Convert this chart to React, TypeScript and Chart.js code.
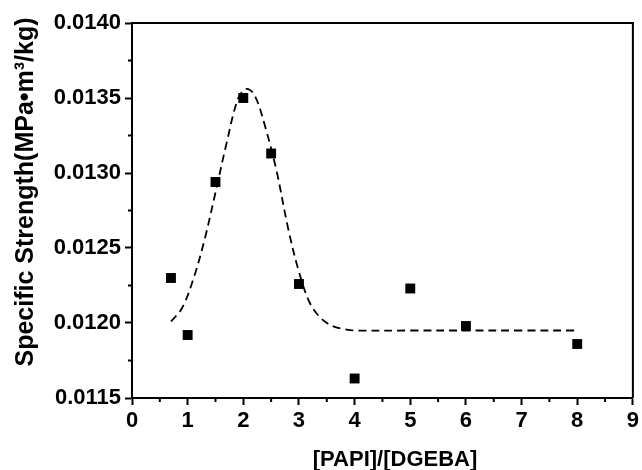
import { useEffect, useRef } from "react";
import { Chart, registerables } from "chart.js";

Chart.register(...registerables);

// Measured data
const ratio = [0.7, 1, 1.5, 2, 2.5, 3, 4, 5, 6, 8];
const strength = [0.0123, 0.01192, 0.01294, 0.0135, 0.01313, 0.01226, 0.01163, 0.01223, 0.01198, 0.01186];

// Dashed fitted curve
const fitX = [0.7, 0.9, 1.1, 1.3, 1.5, 1.7, 1.9, 2.05, 2.2, 2.4, 2.6, 2.8, 3.0, 3.2, 3.4, 3.6, 3.8, 4.0, 5, 6, 7, 8];
const fitY = [0.01201, 0.0121, 0.01229, 0.01255, 0.01287, 0.0132, 0.01349, 0.01356, 0.01352, 0.0133, 0.01301, 0.01264, 0.01234, 0.01213, 0.01203, 0.01198, 0.01196, 0.01195, 0.01195, 0.01195, 0.01195, 0.01195];

// Axis ticks
const xTicks = [0, 1, 2, 3, 4, 5, 6, 7, 8, 9];
const xMinor = [0.5, 1.5, 2.5, 3.5, 4.5, 5.5, 6.5, 7.5, 8.5];
const yTicks = [0.0115, 0.012, 0.0125, 0.013, 0.0135, 0.014];
const yMinor = [0.01175, 0.01225, 0.01275, 0.01325, 0.01375];

const xTitle = "[PAPI]/[DGEBA]";
const yTitle = "Specific Strength(MPa\u2022m\u00B3/kg)";

const FONT = "'Liberation Sans', Arial, sans-serif";

export default function App() {
  const ref = useRef<HTMLCanvasElement | null>(null);

  useEffect(() => {
    const canvas = ref.current;
    if (!canvas) return;

    const framePlugin = {
      id: "frame",
      afterDraw(chart: any) {
        const { ctx, chartArea } = chart;
        const xs = chart.scales.x;
        const ys = chart.scales.y;
        ctx.save();
        ctx.strokeStyle = "#000";
        ctx.lineWidth = 2;
        ctx.beginPath();
        ctx.moveTo(chartArea.left, chartArea.top);
        ctx.lineTo(chartArea.right, chartArea.top);
        ctx.lineTo(chartArea.right, chartArea.bottom);
        ctx.stroke();
        // minor ticks
        ctx.beginPath();
        for (const v of xMinor) {
          const px = xs.getPixelForValue(v);
          ctx.moveTo(px, chartArea.bottom);
          ctx.lineTo(px, chartArea.bottom + 4);
        }
        for (const v of yMinor) {
          const py = ys.getPixelForValue(v);
          ctx.moveTo(chartArea.left, py);
          ctx.lineTo(chartArea.left - 4, py);
        }
        ctx.stroke();
        ctx.fillStyle = "#000";
        ctx.textAlign = "center";
        // x title
        ctx.textBaseline = "alphabetic";
        ctx.font = `bold 22px ${FONT}`;
        ctx.fillText(xTitle, 395, 466);
        // y title
        ctx.textBaseline = "middle";
        ctx.font = `bold 25px ${FONT}`;
        ctx.translate(26, 192);
        ctx.rotate(-Math.PI / 2);
        ctx.fillText(yTitle, 0, 0);
        ctx.restore();
      },
    };

    const chart = new Chart(canvas, {
      type: "scatter",
      data: {
        datasets: [
          {
            type: "scatter",
            label: "data",
            data: ratio.map((x, i) => ({ x, y: strength[i] })),
            pointStyle: "rect",
            pointRadius: 7,
            pointBackgroundColor: "#000",
            pointBorderWidth: 0,
            borderColor: "#000",
            order: 0,
          },
          {
            type: "line",
            label: "fit",
            data: fitX.map((x, i) => ({ x, y: fitY[i] })),
            borderColor: "#000",
            borderWidth: 1.8,
            borderDash: [8, 5],
            pointRadius: 0,
            tension: 0.35,
            fill: false,
            order: 1,
          } as any,
        ],
      },
      options: {
        responsive: false,
        animation: false,
        layout: { padding: { left: 0, top: 23, right: 7, bottom: 0 } },
        plugins: {
          legend: { display: false },
          tooltip: { enabled: false },
        },
        scales: {
          x: {
            type: "linear",
            min: 0,
            max: 9,
            afterBuildTicks: (s: any) => {
              s.ticks = xTicks.map((v) => ({ value: v }));
            },
            afterFit: (s: any) => {
              s.height = 72;
            },
            ticks: {
              color: "#000",
              font: { family: FONT, size: 22, weight: "bold" },
              padding: 3,
              callback: (v: any) => String(v),
              maxRotation: 0,
            },
            grid: {
              drawOnChartArea: false,
              drawTicks: true,
              tickLength: 7,
              tickWidth: 2,
              tickColor: "#000",
            },
            border: { color: "#000", width: 2 },
          },
          y: {
            type: "linear",
            min: 0.0115,
            max: 0.014,
            afterBuildTicks: (s: any) => {
              s.ticks = yTicks.map((v) => ({ value: v }));
            },
            afterFit: (s: any) => {
              s.width = 132;
            },
            ticks: {
              color: "#000",
              font: { family: FONT, size: 22, weight: "bold" },
              padding: 4,
              callback: (v: any) => Number(v).toFixed(4),
            },
            grid: {
              drawOnChartArea: false,
              drawTicks: true,
              tickLength: 7,
              tickWidth: 2,
              tickColor: "#000",
            },
            border: { color: "#000", width: 2 },
          },
        },
      } as any,
      plugins: [framePlugin],
    });

    return () => chart.destroy();
  }, []);

  return (
    <div style={{ position: "fixed", left: 0, top: 0, width: 642, height: 470, background: "#fff" }}>
      <canvas ref={ref} width={642} height={470} />
    </div>
  );
}
